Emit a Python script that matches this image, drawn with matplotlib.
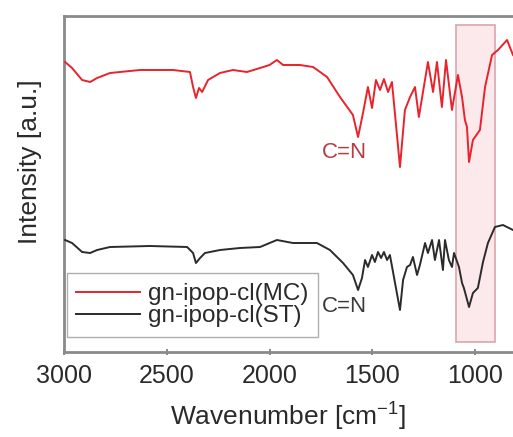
import matplotlib
matplotlib.use("Agg")
from matplotlib import pyplot as plt
from matplotlib.patches import Rectangle

plt.rcParams['font.family'] = ['Liberation Sans', 'DejaVu Sans']

# FTIR spectra, wavenumber [cm-1] vs. intensity (arbitrary units, stacked)
wn_mc = [2995, 2961, 2912, 2873, 2839, 2776, 2630, 2470, 2387, 2372, 2358, 2343, 2328,
         2299, 2241, 2178, 2110, 2046, 2000, 1964, 1934, 1852, 1788, 1720, 1657, 1594,
         1569, 1545, 1521, 1501, 1482, 1462, 1443, 1423, 1404, 1365, 1341, 1316, 1292,
         1273, 1229, 1204, 1185, 1161, 1141, 1112, 1083, 1063, 1049, 1039, 1029, 1010,
         976, 951, 917, 888, 844, 815]
int_mc = [290, 284, 272, 270, 274, 279, 282, 282, 280, 265, 254, 264, 260,
          272, 279, 282, 280, 284, 287, 292, 287, 287, 285, 275, 255, 237,
          215, 239, 265, 244, 272, 262, 273, 260, 270, 185, 242, 255, 265,
          235, 290, 260, 290, 245, 292, 242, 277, 255, 232, 225, 190, 212,
          222, 265, 297, 302, 312, 297]

wn_st = [2995, 2961, 2912, 2873, 2839, 2776, 2582, 2401, 2372, 2358, 2338, 2314, 2241,
         2144, 2046, 1964, 1886, 1769, 1706, 1642, 1594, 1569, 1550, 1535, 1521, 1501,
         1487, 1472, 1457, 1443, 1428, 1414, 1365, 1350, 1331, 1316, 1302, 1282, 1268,
         1243, 1229, 1209, 1195, 1175, 1156, 1146, 1127, 1112, 1102, 1078, 1063, 1054,
         1029, 1010, 986, 961, 937, 903, 864, 815]
int_st = [112, 109, 100, 99, 102, 105, 106, 105, 99, 89, 94, 99, 102,
          104, 105, 112, 109, 109, 102, 89, 77, 62, 74, 92, 85, 97,
          90, 100, 94, 100, 92, 97, 42, 72, 85, 87, 95, 77, 87,
          109, 99, 112, 92, 112, 82, 112, 92, 85, 99, 85, 69, 64,
          45, 59, 64, 90, 109, 125, 127, 122]

labels = ['gn-ipop-cl(MC)', 'gn-ipop-cl(ST)']
band_label = 'C=N'
band_mc = (1633, 199)
band_st = (1633, 46)
region = (1092, 903)  # highlighted range
region_y = (10, 327)

fig = plt.figure(figsize=(5.13, 4.37), dpi=100)
ax = fig.add_axes([0.1248, 0.1945, 0.8752, 0.7689])

ax.add_patch(Rectangle((region[1], region_y[0]), region[0] - region[1],
                       region_y[1] - region_y[0], facecolor='#fbe9ec',
                       edgecolor='#d9a5ae', linewidth=1.2, zorder=1))

l1, = ax.plot(wn_mc, int_mc, color='#e8232b', lw=1.4, zorder=3)
l2, = ax.plot(wn_st, int_st, color='#2b2b2b', lw=1.4, zorder=3)

ax.text(band_mc[0], band_mc[1], band_label, color='#b83a3f',
        fontsize=16, ha='center', va='center')
ax.text(band_st[0], band_st[1], band_label, color='#3a3a3a',
        fontsize=16, ha='center', va='center')

leg = ax.legend([l1, l2], labels, loc='lower left', bbox_to_anchor=(0.006, 0.045),
                fontsize=17.5, frameon=True, fancybox=False, borderpad=0.4,
                handlelength=2.6, handletextpad=0.35, labelspacing=0.0,
                borderaxespad=0, labelcolor='#2a2a2a')
leg.get_frame().set_edgecolor('#9a9a9a')
leg.get_frame().set_linewidth(1.0)

ax.set_xlim(3000, 815)
ax.set_ylim(0, 336)
ax.set_xticks([3000, 2500, 2000, 1500, 1000])
ax.set_yticks([])
ax.tick_params(axis='x', direction='inout', length=5, width=1.2, color='#777777',
               labelsize=18, labelcolor='#2a2a2a', pad=6)
for side in ['left', 'bottom', 'top']:
    ax.spines[side].set_color('#8a8a8a')
    ax.spines[side].set_linewidth(2.0)
ax.spines['right'].set_visible(False)

ax.set_xlabel('Wavenumber [cm$^{\\mathregular{-1}}$]', fontsize=19, color='#2a2a2a',
              labelpad=8)
ax.set_ylabel('Intensity [a.u.]', fontsize=19, color='#2a2a2a')
ax.yaxis.set_label_coords(-0.05, 0.565)

fig.savefig('out.png', dpi=100)
